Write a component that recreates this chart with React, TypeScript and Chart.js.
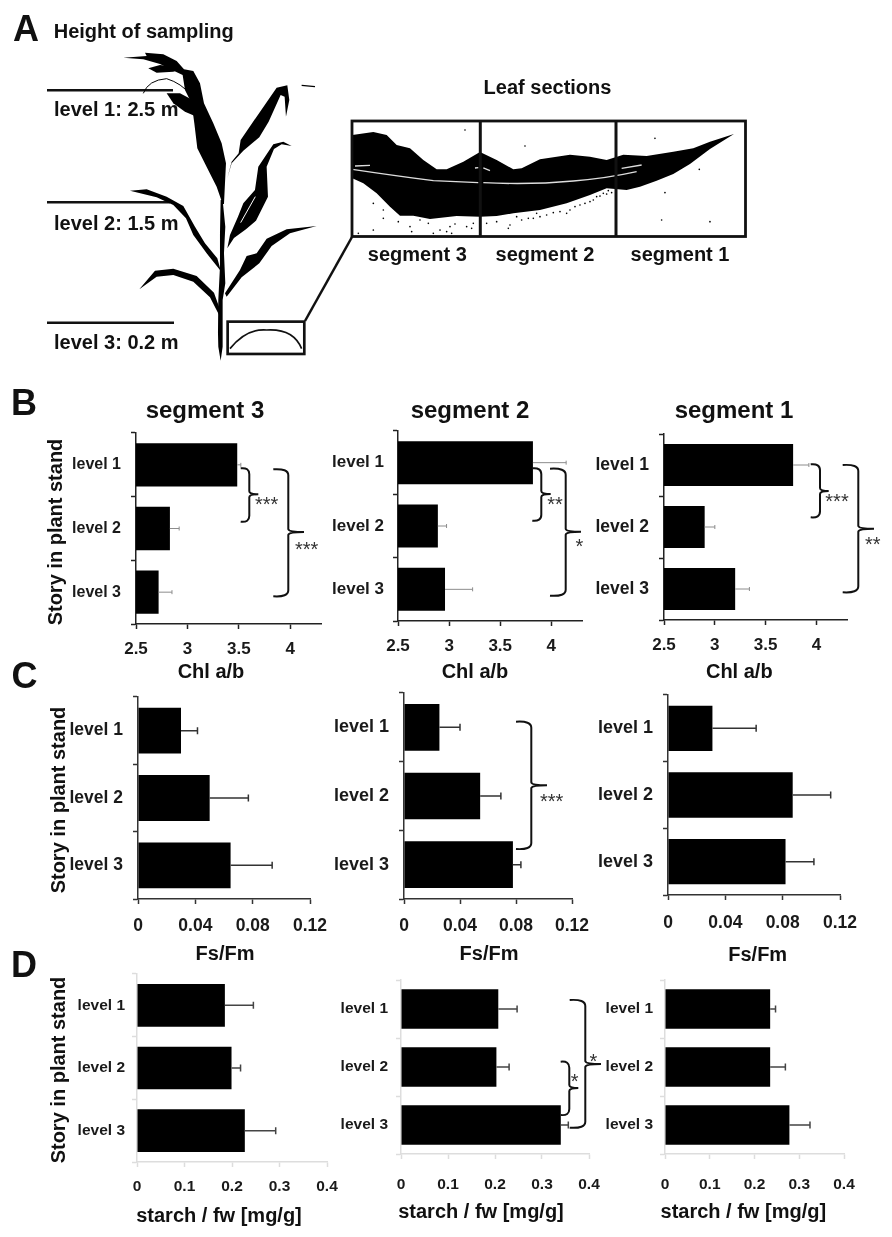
import { useEffect, useRef } from 'react';
import { Chart, registerables } from 'chart.js';
Chart.register(...registerables);

const FONT = '"Liberation Sans", Arial, sans-serif';

const levels = ['level 1', 'level 2', 'level 3'];
const chlTicks = [2.5, 3, 3.5, 4];
const fsTicks = [0, 0.04, 0.08, 0.12];
const starchTicks = [0, 0.1, 0.2, 0.3, 0.4];

// Chl a/b
const chlSeg3 = [3.485, 2.83, 2.72];
const chlSeg3Err = [0.035, 0.09, 0.13];
const chlSeg2 = [3.82, 2.89, 2.96];
const chlSeg2Err = [0.325, 0.085, 0.27];
const chlSeg1 = [3.77, 2.9, 3.2];
const chlSeg1Err = [0.155, 0.1, 0.14];

// Fs/Fm
const fsSeg3 = [0.03, 0.05, 0.0646];
const fsSeg3Err = [0.0115, 0.027, 0.029];
const fsSeg2 = [0.0253, 0.0544, 0.0778];
const fsSeg2Err = [0.0147, 0.0148, 0.0057];
const fsSeg1 = [0.031, 0.087, 0.082];
const fsSeg1Err = [0.0305, 0.0265, 0.0198];

// starch / fw
const starchSeg3 = [0.185, 0.199, 0.227];
const starchSeg3Err = [0.06, 0.019, 0.065];
const starchSeg2 = [0.207, 0.203, 0.34];
const starchSeg2Err = [0.04, 0.027, 0.016];
const starchSeg1 = [0.235, 0.235, 0.278];
const starchSeg1Err = [0.012, 0.034, 0.046];

const chlStyle = { min: 2.5, max: 4.3, ticks: chlTicks, axis: '#222', errColor: '#8c8c8c', errWidth: 1, cap: 4 };
const fsStyle = { min: 0, max: 0.12, ticks: fsTicks, axis: '#333', errColor: '#333', errWidth: 1.5, cap: 7 };
const starchStyle = { min: 0, max: 0.4, ticks: starchTicks, axis: '#ddd', errColor: '#444', errWidth: 1.5, cap: 7 };

const panels = [
  { ...chlStyle, values: chlSeg3, errs: chlSeg3Err, x: 136, y: 433, w: 184.7, h: 191, label: 16, tick: 17, labelPad: 10, tickPad: 10 },
  { ...chlStyle, values: chlSeg2, errs: chlSeg2Err, x: 398, y: 431, w: 184, h: 190, label: 17, tick: 17, labelPad: 9, tickPad: 10 },
  { ...chlStyle, values: chlSeg1, errs: chlSeg1Err, x: 664, y: 434, w: 182.7, h: 186, label: 17.5, tick: 17, labelPad: 10, tickPad: 10 },
  { ...fsStyle, values: fsSeg3, errs: fsSeg3Err, x: 138, y: 697, w: 171.6, h: 202, label: 17.5, tick: 17.5, labelPad: 10, tickPad: 12 },
  { ...fsStyle, values: fsSeg2, errs: fsSeg2Err, x: 404, y: 693, w: 167.7, h: 206, label: 18, tick: 17.5, labelPad: 10, tickPad: 12 },
  { ...fsStyle, values: fsSeg1, errs: fsSeg1Err, x: 668, y: 695, w: 171.6, h: 200, label: 18, tick: 17.5, labelPad: 10, tickPad: 12.5 },
  { ...starchStyle, values: starchSeg3, errs: starchSeg3Err, x: 137, y: 974, w: 190, h: 188, label: 15.5, tick: 15.5, labelPad: 7, tickPad: 10 },
  { ...starchStyle, values: starchSeg2, errs: starchSeg2Err, x: 401, y: 980, w: 187.7, h: 174, label: 15.5, tick: 15.5, labelPad: 8, tickPad: 16 },
  { ...starchStyle, values: starchSeg1, errs: starchSeg1Err, x: 665, y: 980, w: 179, h: 174, label: 15.5, tick: 15.5, labelPad: 7, tickPad: 16 },
];

// significance braces: open end, spine, tip, top, bottom, tip height
const braces = [
  [240.7, 249.3, 258.3, 468.3, 521.7, 494.3],
  [273.3, 288.3, 304, 469.3, 596.3, 532],
  [532.3, 541.3, 550.7, 468.3, 520.7, 494],
  [550, 565.7, 581, 468.7, 595.7, 531.7],
  [810.7, 820, 828.7, 464.3, 517.3, 491],
  [842.7, 858.3, 874, 465, 592.3, 528.7],
  [516, 531.3, 547, 721.7, 849, 785.3],
  [560.7, 569.3, 578.3, 1061.7, 1115, 1088],
  [569.7, 585.3, 601, 1000, 1127.7, 1064],
];
const stars: [string, number, number][] = [
  ['***', 266.7, 502.3], ['***', 306.7, 546.7],
  ['**', 555, 502.3], ['*', 579.3, 544.3],
  ['***', 837, 499], ['**', 872.7, 542.3],
  ['***', 551.7, 799],
  ['*', 574.7, 1079], ['*', 593.3, 1059],
];

const bold = (text: string, x: number, y: number, size: number, rotate = 0) => (
  <div
    key={text + x + y}
    style={{
      position: 'absolute', left: x, top: y, whiteSpace: 'nowrap', fontFamily: FONT, fontWeight: 700,
      fontSize: size, lineHeight: 1, color: '#111',
      transform: `translate(-50%,-50%) rotate(${rotate}deg)`,
    }}
  >
    {text}
  </div>
);

function BarPanel({ p }: { p: (typeof panels)[number] }) {
  const ref = useRef<HTMLCanvasElement>(null);
  const left = 90;
  const bottom = 50;

  useEffect(() => {
    const errorBars = {
      id: 'errorBars',
      afterDatasetsDraw(chart: any) {
        const { ctx, scales } = chart;
        ctx.save();
        ctx.strokeStyle = p.errColor;
        ctx.lineWidth = p.errWidth;
        p.values.forEach((v, i) => {
          const y = scales.y.getPixelForValue(i);
          const x0 = scales.x.getPixelForValue(v);
          const x1 = scales.x.getPixelForValue(v + p.errs[i]);
          ctx.beginPath();
          ctx.moveTo(x0, y);
          ctx.lineTo(x1, y);
          ctx.moveTo(x1, y - p.cap / 2);
          ctx.lineTo(x1, y + p.cap / 2);
          ctx.stroke();
        });
        ctx.restore();
      },
    };
    const chart = new Chart(ref.current!, {
      type: 'bar',
      data: {
        labels: levels,
        datasets: [{
          data: p.values,
          backgroundColor: '#000',
          categoryPercentage: 1,
          barPercentage: 0.68,
        }],
      },
      options: {
        indexAxis: 'y',
        animation: false,
        responsive: false,
        layout: { padding: { top: 6, right: 30, left: 0, bottom: 0 } },
        plugins: { legend: { display: false }, tooltip: { enabled: false } },
        scales: {
          x: {
            type: 'linear',
            min: p.min,
            max: p.max,
            afterBuildTicks: (s: any) => { s.ticks = p.ticks.map(value => ({ value })); },
            afterFit: (s: any) => { s.height = bottom; s.paddingLeft = 0; s.paddingRight = 0; },
            ticks: {
              color: '#1a1a1a',
              padding: p.tickPad,
              maxRotation: 0,
              autoSkip: false,
              font: { family: FONT, weight: 'bold', size: p.tick },
              callback: (v: any) => String(v),
            },
            grid: { drawOnChartArea: false, tickLength: 5, tickColor: p.axis, tickWidth: 1.5 },
            border: { color: p.axis, width: 1.5 },
          },
          y: {
            type: 'category',
            offset: true,
            afterFit: (s: any) => { s.width = left; s.paddingTop = 0; s.paddingBottom = 0; },
            ticks: {
              color: '#1a1a1a',
              padding: p.labelPad,
              font: { family: FONT, weight: 'bold', size: p.label },
            },
            grid: { offset: true, drawOnChartArea: false, tickLength: 5, tickColor: p.axis, tickWidth: 1.5 },
            border: { color: p.axis, width: 1.5 },
          },
        },
      },
      plugins: [errorBars],
    } as any);
    return () => chart.destroy();
  }, []);

  return (
    <canvas
      ref={ref}
      width={Math.round(left + p.w + 30)}
      height={Math.round(6 + p.h + bottom)}
      style={{ position: 'absolute', left: p.x - left, top: p.y - 6 }}
    />
  );
}

// outline through the given points (picture only, no data)
const poly = (pts: number[][]) => 'M' + pts.map(q => q.join(',')).join(' L') + ' Z';

const plantParts = [
  [[655, 1040], [662, 1082], [668, 1040], [668, 900], [676, 850], [672, 760], [676, 680], [668, 600], [662, 600], [660, 700], [660, 800], [655, 900], [654, 1000]],
  [[668, 612], [650, 560], [622, 505], [592, 445], [583, 370], [575, 310], [555, 270], [548, 225], [510, 207], [480, 192], [430, 178], [370, 173], [440, 168], [435, 158], [490, 163], [530, 183], [552, 208], [580, 213], [600, 250], [612, 310], [640, 370], [665, 430], [678, 490], [675, 550], [672, 612]],
  [[500, 280], [540, 280], [578, 300], [590, 350], [555, 335], [520, 310]],
  [[445, 205], [480, 195], [550, 205], [520, 215], [470, 218]],
  [[682, 535], [695, 485], [716, 460], [722, 420], [770, 350], [830, 263], [862, 256], [868, 300], [858, 350], [854, 290], [842, 285], [806, 365], [778, 412], [730, 452], [695, 490]],
  [[690, 705], [714, 650], [730, 610], [765, 570], [775, 500], [795, 470], [820, 433], [850, 425], [875, 438], [845, 433], [822, 447], [800, 500], [804, 590], [768, 662], [738, 688], [702, 714], [682, 745]],
  [[660, 810], [620, 760], [580, 705], [558, 655], [520, 615], [470, 592], [390, 572], [440, 568], [500, 590], [550, 618], [585, 680], [615, 730], [652, 775], [666, 825]],
  [[675, 880], [720, 810], [740, 768], [770, 760], [800, 716], [860, 688], [950, 678], [870, 700], [815, 738], [778, 790], [725, 832], [680, 890]],
  [[660, 950], [630, 892], [580, 845], [520, 825], [470, 830], [418, 868], [465, 812], [520, 806], [590, 828], [642, 878], [666, 945]],
];

const leafOutline = [
  [37, 195], [100, 186], [140, 195], [170, 225], [210, 235], [250, 270], [290, 298], [320, 298], [370, 275], [420, 246], [470, 270], [520, 298], [545, 295], [600, 268], [690, 254], [750, 260], [800, 270], [850, 254], [920, 258], [1000, 245], [1060, 235], [1110, 215], [1182, 192],
  [1110, 237], [1050, 282], [1000, 312], [950, 332], [900, 350], [860, 360], [800, 355], [750, 375], [680, 400], [600, 420], [520, 430], [470, 438], [420, 440], [350, 438], [270, 447], [220, 437], [180, 437], [150, 410], [110, 370], [70, 340], [37, 325],
];

const leafSpecks = [
  [100, 400], [130, 420], [175, 455], [210, 470], [240, 450], [265, 460], [300, 480], [330, 470], [345, 462], [380, 470], [400, 460], [440, 460], [470, 455], [510, 465], [530, 440], [565, 445], [590, 430], [620, 435], [660, 425], [690, 420], [720, 405], [750, 395], [770, 380], [790, 370], [805, 362], [965, 450], [1110, 455], [375, 180], [555, 228], [945, 205], [1078, 298], [975, 368],
  [215, 485], [280, 490], [320, 485], [335, 490], [395, 475], [505, 475], [545, 450], [580, 445], [600, 440], [640, 428], [680, 430], [705, 410], [735, 400], [760, 390], [780, 378], [800, 372], [815, 368], [55, 490], [100, 480], [130, 445],
];

export default function App() {
  return (
    <div style={{ position: 'absolute', left: 0, top: 0, width: 892, height: 1237, background: '#fff', overflow: 'hidden' }}>
      <svg width={892} height={1237} style={{ position: 'absolute', left: 0, top: 0 }}>
        {/* sampling heights */}
        <g stroke="#111" strokeWidth={2.5}>
          <line x1={47} x2={173} y1={90.3} y2={90.3} />
          <line x1={47} x2={170} y1={202.3} y2={202.3} />
          <line x1={47} x2={174} y1={322.7} y2={322.7} />
        </g>
        {/* plant */}
        <g transform="scale(0.3333)">
          {plantParts.map((pts, i) => <path key={i} d={poly(pts)} fill="#000" />)}
          <path d="M430,280 Q445,240 500,236 Q545,250 572,285" fill="none" stroke="#000" strokeWidth={3} />
          <path d="M905,256 L945,260" stroke="#000" strokeWidth={4} />
          <path d="M722,668 L766,590" stroke="#fff" strokeWidth={3} />
          <rect x={683} y={965} width={230} height={97} fill="none" stroke="#111" strokeWidth={8} />
          <path d="M690,1046 Q740,985 800,990 Q880,985 905,1046" fill="none" stroke="#111" strokeWidth={5} />
        </g>
        <line x1={305} y1={321} x2={352} y2={237} stroke="#111" strokeWidth={2.5} />
        {/* leaf sections */}
        <g transform="translate(340,70) scale(0.3333)">
          <path d={poly(leafOutline)} fill="#000" />
          <path d="M37,298 Q150,315 280,332 L415,338 M430,338 Q570,345 700,333 Q800,325 890,305" fill="none" stroke="#ddd" strokeWidth={4} />
          <path d="M45,288 L90,286 M405,294 L415,293 M430,294 L450,302 M845,295 L905,285" stroke="#ddd" strokeWidth={4} />
          {leafSpecks.map(([x, y]) => <circle key={x + '-' + y} cx={x} cy={y} r={2.5} fill="#000" />)}
        </g>
        <rect x={352} y={121} width={393.5} height={115.5} fill="none" stroke="#111" strokeWidth={2.8} />
        <line x1={480.3} x2={480.3} y1={121} y2={236.5} stroke="#111" strokeWidth={3} />
        <line x1={616} x2={616} y1={121} y2={236.5} stroke="#111" strokeWidth={3} />
      </svg>

      {panels.map((p, i) => <BarPanel key={i} p={p} />)}

      <svg width={892} height={1237} style={{ position: 'absolute', left: 0, top: 0 }}>
        {braces.map(([a, s, t, y0, y1, m], i) => (
          <path
            key={i}
            fill="none"
            stroke="#111"
            strokeWidth={2}
            d={`M${a},${y0} Q${s},${y0 - 1} ${s},${y0 + 6} L${s},${m - 3} Q${s},${m} ${t},${m} Q${s},${m} ${s},${m + 3} L${s},${y1 - 6} Q${s},${y1 + 1} ${a},${y1}`}
          />
        ))}
      </svg>
      {stars.map(([s, x, y]) => (
        <div
          key={x + '-' + y}
          style={{
            position: 'absolute', left: x, top: y + 2, fontFamily: FONT, fontSize: 20, lineHeight: 1, color: '#333',
            transform: 'translate(-50%,-50%)', whiteSpace: 'nowrap',
          }}
        >
          {s}
        </div>
      ))}

      {bold('A', 26, 29, 36)}
      {bold('B', 24, 403, 36)}
      {bold('C', 24.5, 676, 36)}
      {bold('D', 24, 965, 36)}

      {bold('Height of sampling', 143.7, 31, 20)}
      {bold('level 1: 2.5 m', 116.3, 109.3, 20)}
      {bold('level 2: 1.5 m', 116.3, 223.3, 20)}
      {bold('level 3: 0.2 m', 116.3, 341.7, 20)}
      {bold('Leaf sections', 547.5, 86.7, 20)}
      {bold('segment 3', 417.3, 254, 20)}
      {bold('segment 2', 545, 254, 20)}
      {bold('segment 1', 680, 254, 20)}

      {bold('segment 3', 205, 410, 24)}
      {bold('segment 2', 470, 410, 24)}
      {bold('segment 1', 734, 410, 24)}

      {bold('Story in plant stand', 55, 531.5, 20, -90)}
      {bold('Story in plant stand', 57.5, 800, 20, -90)}
      {bold('Story in plant stand', 58, 1070, 20, -90)}

      {bold('Chl a/b', 211, 670.7, 20)}
      {bold('Chl a/b', 475, 670.7, 20)}
      {bold('Chl a/b', 739.3, 671, 20)}
      {bold('Fs/Fm', 225, 953, 20)}
      {bold('Fs/Fm', 489, 953, 20)}
      {bold('Fs/Fm', 757.7, 954, 20)}
      {bold('starch / fw [mg/g]', 219, 1215, 20)}
      {bold('starch / fw [mg/g]', 481, 1210.7, 20)}
      {bold('starch / fw [mg/g]', 743.3, 1210.7, 20)}
    </div>
  );
}
